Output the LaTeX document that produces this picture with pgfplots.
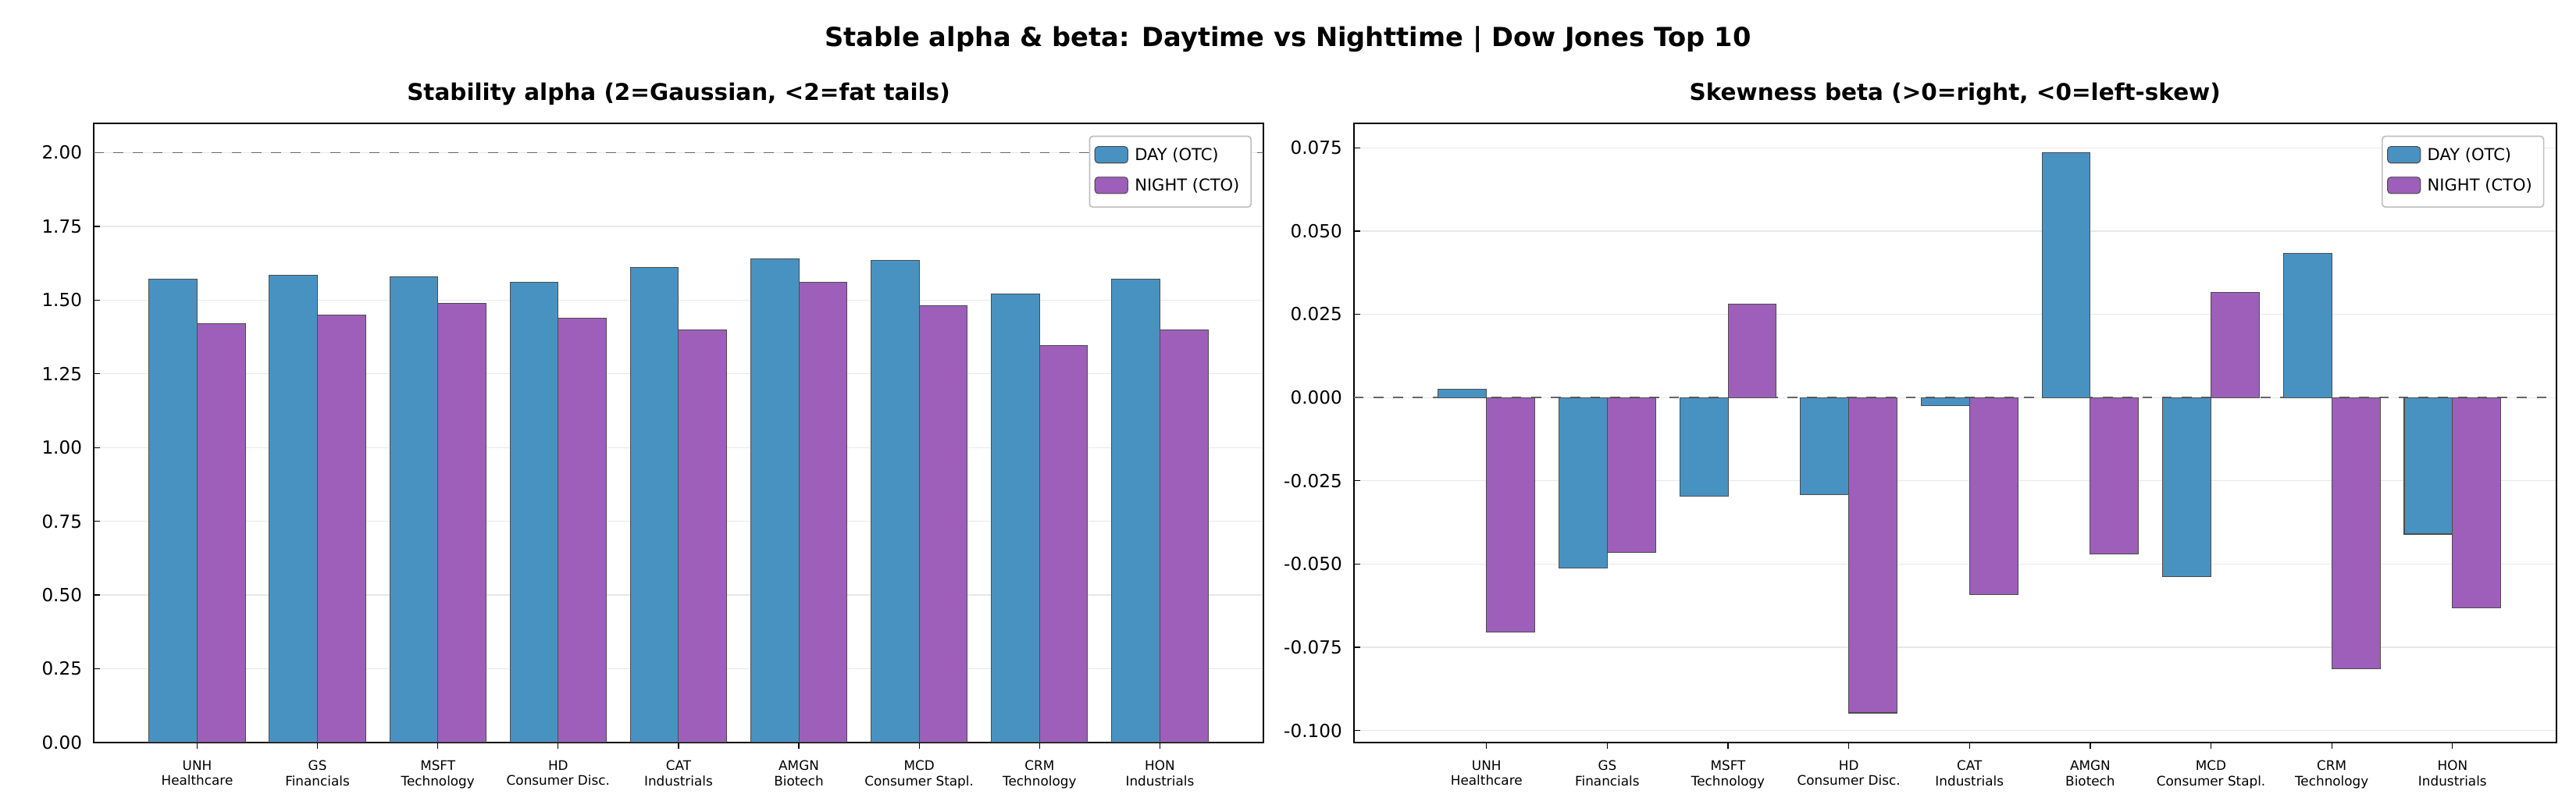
\documentclass[border=0pt]{standalone}
\usepackage{pgfplots}
\pgfplotsset{compat=1.18}
\usepackage{fontspec}
\setmainfont{DejaVu Sans}
\definecolor{dayc}{RGB}{72,146,194}
\definecolor{nightc}{RGB}{157,95,185}
\pgfplotsset{
  base/.style={scale only axis, height=188.5pt, ybar, bar width=0.4, bar shift=0pt,
    xtick pos=left, ytick pos=left,
    xtick={0,...,8}, xticklabels={{UNH\\Healthcare},{GS\\Financials},{MSFT\\Technology},{HD\\Consumer Disc.},{CAT\\Industrials},{AMGN\\Biotech},{MCD\\Consumer Stapl.},{CRM\\Technology},{HON\\Industrials}},
    xticklabel style={font=\fontsize{4}{4.6}\selectfont, align=center},
    yticklabel style={font=\fontsize{5.5}{6}\selectfont},
    /pgf/number format/assume math mode=true,
    ymajorgrids, grid style={gray!18, line width=0.3pt},
    major tick length=2pt, tick style={black, line width=0.3pt},
    axis line style={line width=0.4pt},
    title style={font=\bfseries\fontsize{7}{8}\selectfont, yshift=-4pt},
    legend style={font=\fontsize{5}{6}\selectfont, at={(0.99,0.98)}, anchor=north east, draw=gray!50, rounded corners=1pt, cells={anchor=west}, inner sep=1.5pt},
    legend image code/.code={\draw[#1] (0pt,-2pt) rectangle (10pt,3pt);},
  },
  dayb/.style={fill=dayc, draw=black!70, line width=0.25pt},
  nightb/.style={fill=nightc, draw=black!70, line width=0.25pt},
}
\begin{document}
\begin{tikzpicture}
\begin{axis}[base, name=L, width=356pt, xmin=-0.86, xmax=8.86, ymin=0, ymax=2.1,
  ytick={0,0.25,...,2.0}, yticklabel style={/pgf/number format/fixed, /pgf/number format/fixed zerofill, /pgf/number format/precision=2},
  title={Stability alpha (2=Gaussian, <2=fat tails)}]
\draw[dashed, black!60, line width=0.35pt] (axis cs:-0.86,2) -- (axis cs:8.86,2);
\addplot[dayb] coordinates {(-0.2,1.57)(0.8,1.585)(1.8,1.58)(2.8,1.56)(3.8,1.61)(4.8,1.64)(5.8,1.635)(6.8,1.52)(7.8,1.57)};
\addplot[nightb] coordinates {(0.2,1.42)(1.2,1.45)(2.2,1.49)(3.2,1.44)(4.2,1.40)(5.2,1.56)(6.2,1.48)(7.2,1.345)(8.2,1.40)};
\legend{DAY (OTC), NIGHT (CTO)}
\end{axis}
\begin{axis}[base, at={(L.south east)}, anchor=south west, xshift=27.5pt, width=366pt, xmin=-1.10, xmax=8.86, ymin=-0.1036, ymax=0.0824,
  ytick={-0.1,-0.075,...,0.076}, yticklabel style={/pgf/number format/fixed, /pgf/number format/fixed zerofill, /pgf/number format/precision=3},
  title={Skewness beta (>0=right, <0=left-skew)}]
\draw[dashed, black!60, line width=0.35pt] (axis cs:-1.1,0) -- (axis cs:8.86,0);
\addplot[dayb] coordinates {(-0.2,0.0025)(0.8,-0.0513)(1.8,-0.0296)(2.8,-0.0291)(3.8,-0.0025)(4.8,0.0735)(5.8,-0.0538)(6.8,0.0434)(7.8,-0.041)};
\addplot[nightb] coordinates {(0.2,-0.0705)(1.2,-0.0464)(2.2,0.0281)(3.2,-0.0947)(4.2,-0.0592)(5.2,-0.0469)(6.2,0.0316)(7.2,-0.0814)(8.2,-0.0632)};
\legend{DAY (OTC), NIGHT (CTO)}
\end{axis}
\path (L.north west) ++(-28.5pt,0) coordinate (TL);
\node[font=\bfseries\fontsize{8}{9}\selectfont] at ([xshift=392pt, yshift=25.5pt]TL) {Stable alpha \& beta: Daytime vs Nighttime | Dow Jones Top 10};
\pgfresetboundingbox
\path[use as bounding box] ([yshift=37.5pt]TL) rectangle ([xshift=784pt, yshift=-207.5pt]TL);
\end{tikzpicture}
\end{document}
